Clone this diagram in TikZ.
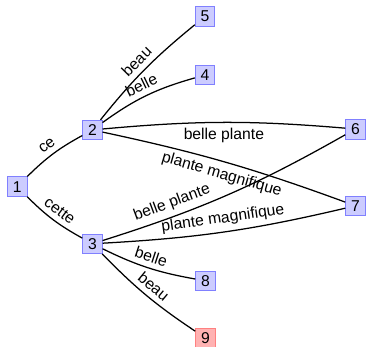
\documentclass[tikz,border=0pt]{standalone}
\usepackage{fontspec}
\setmainfont{Liberation Sans}
\usepackage{tikz}

\begin{document}
\begin{tikzpicture}[
  box/.style={
    draw=blue!50, fill=blue!20, inner sep=1pt, minimum size=12.5pt
  },
  finalbox/.style={
    box, draw=red!50, fill=red!30
  },
  link/.style={thick}
]
\useasboundingbox (0,0) rectangle (8.22,7.77);

\node[box] (s1) at (0.385,3.59) {1};
\node[box] (s2) at (2.07,4.86) {2};
\node[box] (s3) at (2.07,2.31) {3};
\node[box] (s4) at (4.59,6.09) {4};
\node[box] (s5) at (4.59,7.40) {5};
\node[box] (s6) at (7.96,4.88) {6};
\node[box] (s7) at (7.96,3.16) {7};
\node[box] (s8) at (4.60,1.48) {8};
\node[finalbox] (s9) at (4.60,0.20) {9};

\draw[link] (s1) to[bend left=8] node[above, sloped] {ce} (s2);
\draw[link] (s1) to[bend right=8] node[above, sloped] {cette} (s3);

\draw[link] (s2) to[bend left=6] node[above, sloped] {beau} (s5);
\draw[link] (s2) to[bend left=10] node[above, sloped] {belle} (s4);
\draw[link] (s2) to[bend left=5] node[below] {belle plante} (s6);
\draw[link] (s2) to[bend left=4] node[below, sloped] {plante magnifique} (s7);

\draw[link] (s3) to[bend right=6] node[pos=0.28, above, sloped] {belle plante} (s6);
\draw[link] (s3) to[bend right=5] node[above, sloped] {plante magnifique} (s7);
\draw[link] (s3) to[bend right=8] node[above, sloped] {belle} (s8);
\draw[link] (s3) to[bend right=6] node[above, sloped] {beau} (s9);

\end{tikzpicture}
\end{document}
